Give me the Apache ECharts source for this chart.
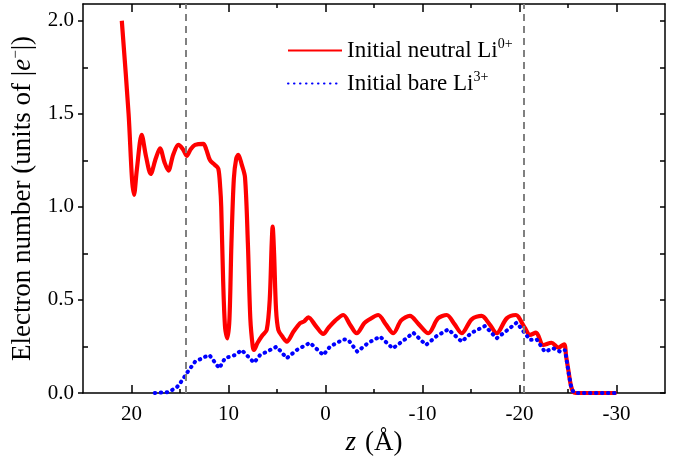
<!DOCTYPE html>
<html>
<head>
<meta charset="utf-8">
<script src="https://cdn.jsdelivr.net/npm/echarts@6/dist/echarts.min.js"></script>
<style>
  html, body { margin: 0; padding: 0; background: #fff; }
  #chart { width: 680px; height: 459px; }
</style>
</head>
<body>
<div id="chart"></div>
<script>
// electron number along z, two initial charge states

const zNeutral = [21.0, 20.3, 19.95, 19.74, 19.45, 18.95, 18.5, 18.02, 17.5, 17.06, 16.6, 16.2, 15.7, 15.17, 14.7, 14.3, 13.9, 13.45, 12.6, 12.3, 11.9, 11.4, 11.05, 10.85, 10.75, 10.55, 10.35, 10.12, 9.9, 9.7, 9.45, 9.2, 8.99, 8.65, 8.3, 8.0, 7.75, 7.5, 7.37, 7.0, 6.5, 6.06, 5.75, 5.55, 5.45, 5.3, 5.1, 4.86, 4.4, 4.0, 3.3, 2.63, 2.2, 1.77, 1.0, 0.23, -0.3, -1.0, -1.84, -2.5, -3.22, -4.0, -4.42, -5.44, -6.2, -6.99, -7.8, -8.7, -9.6, -10.6, -11.6, -12.5, -13.3, -14.04, -15.07, -16.1, -16.9, -17.65, -18.68, -19.64, -19.88, -20.57, -21.08, -21.7, -22.45, -23.3, -24.0, -24.6, -24.8, -25.03, -25.3, -25.55, -26, -30];
const vNeutral = [2.0, 1.5, 1.15, 1.065, 1.2, 1.387, 1.27, 1.177, 1.26, 1.315, 1.24, 1.195, 1.28, 1.333, 1.31, 1.274, 1.31, 1.333, 1.339, 1.31, 1.25, 1.225, 1.205, 1.1, 1.0, 0.6, 0.35, 0.294, 0.4, 0.8, 1.15, 1.26, 1.28, 1.23, 1.16, 0.8, 0.4, 0.25, 0.231, 0.27, 0.31, 0.339, 0.5, 0.8, 0.894, 0.75, 0.45, 0.339, 0.3, 0.276, 0.33, 0.375, 0.385, 0.407, 0.36, 0.317, 0.35, 0.389, 0.419, 0.37, 0.321, 0.375, 0.392, 0.419, 0.37, 0.321, 0.39, 0.414, 0.37, 0.321, 0.401, 0.419, 0.37, 0.321, 0.396, 0.414, 0.37, 0.321, 0.401, 0.419, 0.41, 0.348, 0.312, 0.324, 0.258, 0.27, 0.244, 0.262, 0.2, 0.124, 0.04, 0.005, 0, 0];

const zBare = [17.6, 16.2, 15.34, 15.0, 14.5, 14.3, 13.45, 12.4, 11.97, 10.95, 10.36, 9.33, 8.64, 7.37, 6.75, 5.03, 4.0, 2.97, 1.6, 0.23, -0.46, -1.84, -2.35, -3.28, -4.42, -5.62, -6.93, -8.2, -9.05, -10.36, -11.46, -12.66, -14.04, -15.07, -16.44, -17.65, -18.85, -19.71, -20.57, -21.08, -21.77, -22.6, -23.5, -24.2, -24.7, -25.03, -25.3, -25.55, -26, -30];
const vBare = [0, 0.005, 0.03, 0.052, 0.09, 0.107, 0.168, 0.195, 0.204, 0.133, 0.187, 0.204, 0.231, 0.163, 0.204, 0.249, 0.187, 0.231, 0.27, 0.204, 0.249, 0.288, 0.285, 0.222, 0.27, 0.303, 0.24, 0.288, 0.324, 0.258, 0.306, 0.342, 0.276, 0.324, 0.36, 0.294, 0.342, 0.378, 0.321, 0.285, 0.288, 0.222, 0.24, 0.222, 0.231, 0.12, 0.04, 0.005, 0, 0];

const guideLines = [14.4, -20.4];
const xMajor = [20, 10, 0, -10, -20, -30];
const xMinor = [15, 5, -5, -15, -25];
const yMajor = [0, 0.5, 1, 1.5, 2];
const yMinor = [0.25, 0.75, 1.25, 1.75];

const FONT = '"Liberation Serif", "DejaVu Serif", serif';
const axisColor = '#000';

const pairs = (xs, ys) => xs.map((x, i) => [x, ys[i]]);

const hiddenLine = {show: false, onZero: false};
const shownLine = {show: true, onZero: false, lineStyle: {color: axisColor, width: 1.5}};

const xBase = {
    type: 'value', min: -35, max: 25, inverse: true,
    splitLine: {show: false},
    axisLine: hiddenLine,
    axisLabel: {show: false},
    axisTick: {show: false}
};
const yBase = {
    type: 'value', min: 0, max: 2.09,
    splitLine: {show: false},
    axisLine: hiddenLine,
    axisLabel: {show: false},
    axisTick: {show: false}
};

const option = {
    animation: false,
    backgroundColor: '#fff',
    grid: {left: 83, right: 15, top: 4, bottom: 66, outerBoundsMode: 'none', containLabel: false},
    legend: {
        orient: 'vertical',
        left: 282, top: 32,
        itemWidth: 54, itemHeight: 14, itemGap: 8,
        data: ['neutral', 'bare'],
        itemStyle: {opacity: 0},
        formatter: n => n === 'neutral'
            ? '{t|Initial neutral Li}{s|0+}'
            : '{t|Initial bare Li}{s|3+}',
        textStyle: {
            fontFamily: FONT, color: '#000',
            rich: {
                t: {fontFamily: FONT, fontSize: 23, color: '#000'},
                s: {fontFamily: FONT, fontSize: 14, color: '#000', padding: [0, 0, 13, 0]}
            }
        }
    },
    xAxis: [
        Object.assign({}, xBase, {
            position: 'bottom',
            axisLine: shownLine,
            axisTick: {show: true, inside: true, length: 8, customValues: xMajor, lineStyle: {color: axisColor, width: 1.5}},
            axisLabel: {show: true, customValues: xMajor, fontFamily: FONT, fontSize: 21, color: '#000', margin: 11},
            name: '{i|z}{t|(Å)}',
            nameLocation: 'middle', nameGap: 32,
            nameTextStyle: {
                rich: {
                    i: {fontFamily: FONT, fontStyle: 'italic', fontSize: 27, color: '#000'},
                    t: {fontFamily: FONT, fontSize: 27, color: '#000', padding: [0, 0, 0, 9]}
                }
            }
        }),
        Object.assign({}, xBase, {
            position: 'bottom',
            axisTick: {show: true, inside: true, length: 4, customValues: xMinor, lineStyle: {color: axisColor, width: 1.5}}
        }),
        Object.assign({}, xBase, {
            position: 'top',
            axisLine: shownLine,
            axisTick: {show: true, inside: true, length: 8, customValues: xMajor, lineStyle: {color: axisColor, width: 1.5}}
        }),
        Object.assign({}, xBase, {
            position: 'top',
            axisTick: {show: true, inside: true, length: 4, customValues: xMinor, lineStyle: {color: axisColor, width: 1.5}}
        })
    ],
    yAxis: [
        Object.assign({}, yBase, {
            position: 'left',
            axisLine: shownLine,
            axisTick: {show: true, inside: false, length: 5, customValues: yMajor, lineStyle: {color: axisColor, width: 1.5}},
            axisLabel: {show: true, customValues: yMajor, formatter: v => v.toFixed(1), fontFamily: FONT, fontSize: 21, color: '#000', margin: 9},
            name: '{t|Electron number (units of |}{i|e}{s|−}{t||)}',
            nameLocation: 'middle', nameGap: 37,
            nameTextStyle: {
                rich: {
                    t: {fontFamily: FONT, fontSize: 27, color: '#000'},
                    i: {fontFamily: FONT, fontStyle: 'italic', fontSize: 27, color: '#000'},
                    s: {fontFamily: FONT, fontSize: 15, color: '#000', padding: [0, 0, 14, 0]}
                }
            }
        }),
        Object.assign({}, yBase, {
            position: 'left',
            axisTick: {show: true, inside: true, length: 5, customValues: yMinor, lineStyle: {color: axisColor, width: 1.5}}
        }),
        Object.assign({}, yBase, {
            position: 'right',
            axisLine: shownLine,
            axisTick: {show: true, inside: true, length: 5, customValues: yMajor.concat(yMinor), lineStyle: {color: axisColor, width: 1.5}}
        })
    ],
    series: [
        {
            name: 'guides', type: 'line', data: [], z: 1,
            markLine: {
                silent: true, symbol: ['none', 'none'],
                label: {show: false},
                lineStyle: {color: '#808080', type: [7, 5], width: 2},
                data: guideLines.map(x => ({xAxis: x}))
            }
        },
        {
            name: 'neutral', type: 'line', symbol: 'none', smooth: 0.3, z: 3,
            lineStyle: {color: '#ff0000', width: 4.2},
            itemStyle: {color: '#ff0000'},
            data: pairs(zNeutral, vNeutral)
        },
        {
            name: 'bare', type: 'line', symbol: 'none', z: 4,
            lineStyle: {color: '#0000ff', width: 4, type: [0.5, 5.5], cap: 'round'},
            itemStyle: {color: '#0000ff'},
            data: pairs(zBare, vBare)
        }
    ]
};

const chart = echarts.init(document.getElementById('chart'));
chart.setOption(option);
</script>
</body>
</html>
